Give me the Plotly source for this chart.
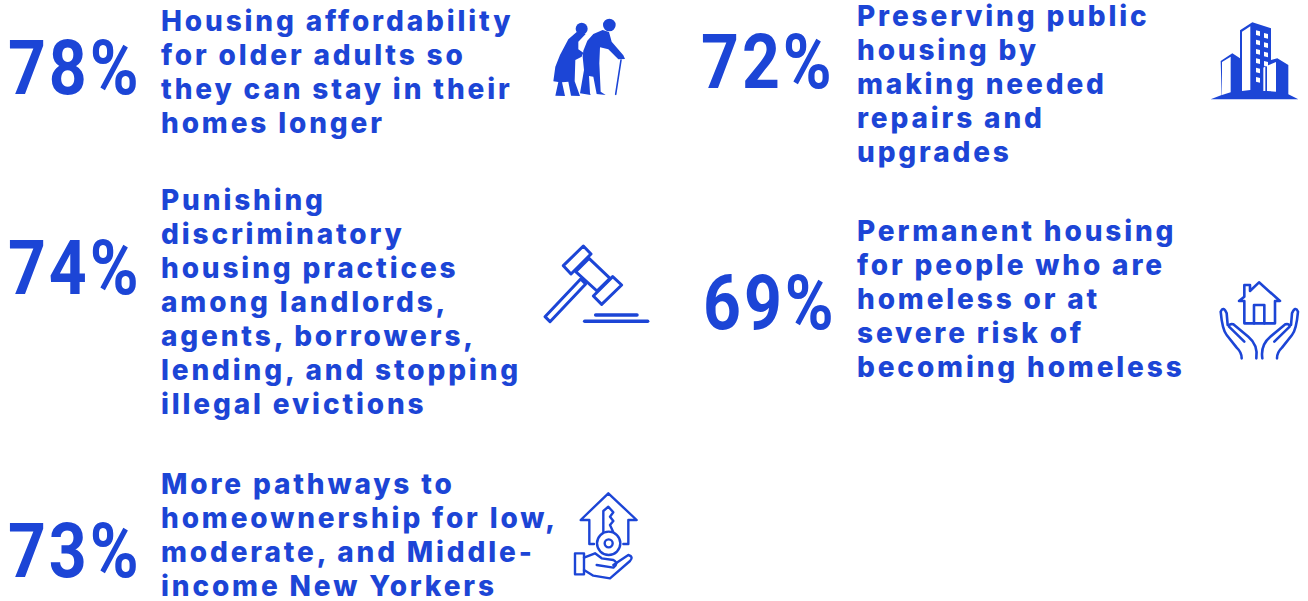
import re
import plotly.graph_objects as go

BLUE = "#1c45d6"

percent_values = [78, 74, 73, 72, 69]
statements = [
    ["Housing affordability", "for older adults so", "they can stay in their", "homes longer"],
    ["Punishing", "discriminatory", "housing practices", "among landlords,", "agents, borrowers,", "lending, and stopping", "illegal evictions"],
    ["More pathways to", "homeownership for low,", "moderate, and Middle-", "income New Yorkers"],
    ["Preserving public", "housing by", "making needed", "repairs and", "upgrades"],
    ["Permanent housing", "for people who are", "homeless or at", "severe risk of", "becoming homeless"],
]

# layout (not data)
pct_x = [8, 8, 8, 701, 703]
pct_y = [75, 275, 558, 69, 310]
text_x = [159, 159, 159, 855, 855]
text_first_y = [21, 200, 484, 16, 231]
PITCH = 34

shapes = []


def icon(d, ox, oy, fill=None, width=3, color=BLUE):
    """d is in 3x zoom units relative to the icon's box."""
    toks = re.findall(r"[MLQZ]|-?\d+\.?\d*", d)
    out, i = [], 0
    while i < len(toks):
        t = toks[i]
        if t in "MLQZ":
            out.append(t)
            i += 1
        else:
            out.append(f"{ox + float(t) / 3:.2f},{oy + float(toks[i + 1]) / 3:.2f}")
            i += 2
    path = " ".join(out)
    path = re.sub(r"([MLQ]) ", r"\1", path)
    shapes.append(dict(type="path", path=path, xref="x", yref="y",
                       fillcolor=fill if fill else "rgba(0,0,0,0)",
                       line=dict(color=color, width=width) if width else dict(width=0)))


def circ(cx, cy, r, ox, oy, fill=None, width=3, color=BLUE):
    shapes.append(dict(type="circle", xref="x", yref="y",
                       x0=ox + (cx - r) / 3, x1=ox + (cx + r) / 3,
                       y0=oy + (cy - r) / 3, y1=oy + (cy + r) / 3,
                       fillcolor=fill if fill else "rgba(0,0,0,0)",
                       line=dict(color=color, width=width) if width else dict(width=0)))


# elderly couple
ox, oy = 540, 10
circ(208, 45, 19, ox, oy, fill=BLUE, width=0)
circ(125, 56, 18, ox, oy, fill=BLUE, width=0)
icon("M188 60 L160 72 L142 92 L130 122 L128 140 L132 180 L120 250 L152 255 L150 250 L147 198 L160 200 L170 252 L197 255 L182 245 L178 160 L180 112 L205 118 L235 148 L255 147 L250 136 L215 95 L207 66 Z", ox, oy, fill=BLUE, width=0)
icon("M110 66 L85 88 L60 135 L46 170 L40 214 L55 216 L46 257 L75 258 L66 217 L85 215 L93 257 L120 258 L104 214 L106 150 L125 140 L130 128 L115 118 L115 95 L137 72 Z", ox, oy, fill=BLUE, width=0)
icon("M243 150 L227 253", ox, oy, width=1.6)

# gavel
ox, oy = 535, 235
icon("M162 70 L225 130 L186 168 L122 110 Z", ox, oy)
icon("M145 33 L168 57 L108 117 L85 92 Z", ox, oy)
icon("M233 125 L260 150 L200 208 L175 183 Z", ox, oy)
icon("M137 132 L152 147 L45 260 L30 245 Z", ox, oy)
icon("M182 240 L306 240", ox, oy, width=3.5)
icon("M149 259 L338 259", ox, oy, width=3.5)

# key in house over hand
ox, oy = 560, 485
icon("M102 177 L88 177 L88 105 L62 105 L145 25 L230 105 L205 105 L205 177 L190 177", ox, oy, width=2.4)
circ(146, 175, 35, ox, oy, width=2.4)
circ(146, 175, 12, ox, oy, width=2.4)
icon("M130 142 L130 78 L145 65 L160 82 L150 95 L160 108 L150 120 L160 142", ox, oy, width=2.4)
icon("M45 205 L72 205 L72 268 L45 268 Z", ox, oy, width=2.4)
icon("M72 218 L105 205 L125 220 L160 225 Q178 235 160 248 L110 240", ox, oy, width=2.4)
icon("M160 240 L205 210 Q222 215 210 228 L150 280 L100 272 L72 255", ox, oy, width=2.4)

# buildings
ox, oy = 1200, 15
icon("M32 253 L65 240 L62 138 L97 115 L120 130 L120 46 L157 22 L213 40 L213 135 L232 130 L265 150 L265 238 L295 253 Z", ox, oy, fill=BLUE, width=0)
WHITE = "#ffffff"
icon("M66 141 L92 125 L92 232 L66 240 Z", ox, oy, fill=WHITE, width=0)
icon("M126 50 L151 34 L151 225 L126 228 Z", ox, oy, fill=WHITE, width=0)
icon("M190 158 L196 154 L196 228 L190 228 Z", ox, oy, fill=WHITE, width=0)
icon("M201 152 L228 141 L228 230 L201 228 Z", ox, oy, fill=WHITE, width=0)
for r in range(6):
    for c in range(2):
        if r > 3 and c == 1:
            continue
        x0 = 168 + c * 24
        y0 = 46 + r * 28 + c * 8
        icon(f"M{x0} {y0} L{x0+12} {y0+3} L{x0+12} {y0+17} L{x0} {y0+14} Z", ox, oy, fill=WHITE, width=0)

# hands holding house
ox, oy = 1205, 275
icon("M102 78 L118 65 L118 30 L135 30 L135 48 L162 22 L225 78 L210 78 L210 145 L118 145 L118 78 Z", ox, oy, width=2.6)
icon("M147 145 L147 90 L178 90 L178 145", ox, oy, width=2.6)
for sign in (0, 1):
    m = (lambda x: x) if sign == 0 else (lambda x: 326 - x)
    icon(f"M{m(110)} 250 Q{m(110)} 232 {m(95)} 218 L{m(65)} 180 Q{m(52)} 165 {m(47)} 110 Q{m(55)} 92 {m(65)} 115 L{m(68)} 150", ox, oy, width=2.6)
    icon(f"M{m(118)} 200 L{m(72)} 155 Q{m(72)} 145 {m(85)} 148 L{m(130)} 185 Q{m(160)} 210 {m(154)} 250", ox, oy, width=2.6)

fig = go.Figure()
fig.add_trace(go.Scatter(
    x=pct_x, y=pct_y, mode="text", text=[f"{v}%" for v in percent_values],
    textposition="middle right",
    textfont=dict(family="Roboto", size=76, color=BLUE, weight="bold"),
    hoverinfo="skip", showlegend=False))

annotations = []
for lines, x, y0 in zip(statements, text_x, text_first_y):
    for i, line in enumerate(lines):
        annotations.append(dict(x=x, y=y0 + i * PITCH, xref="x", yref="y", text=line,
                                showarrow=False, xanchor="left", yanchor="middle", align="left",
                                font=dict(family="Inter", size=28, color=BLUE, weight=800)))

fig.update_layout(
    width=1308, height=601, margin=dict(l=0, r=0, t=0, b=0),
    paper_bgcolor="white", plot_bgcolor="white", showlegend=False,
    xaxis=dict(range=[0, 1308], visible=False, fixedrange=True),
    yaxis=dict(range=[601, 0], visible=False, fixedrange=True),
    shapes=shapes, annotations=annotations,
)
post = """
var s=document.createElement('style');
s.textContent='.annotation-text{letter-spacing:2.85px}body{margin:0}.shapelayer path{stroke-linejoin:round;stroke-linecap:round}.textpoint text{letter-spacing:3.4px}';
document.head.appendChild(s);
document.querySelectorAll('.textpoint text').forEach(function(t){
  var x=parseFloat(t.getAttribute('x'));
  t.setAttribute('transform','translate('+x+',0) scale(0.87,1) translate('+(-x)+',0)');
});
"""
fig.write_html("out.html", post_script=post, config=dict(displayModeBar=False))
